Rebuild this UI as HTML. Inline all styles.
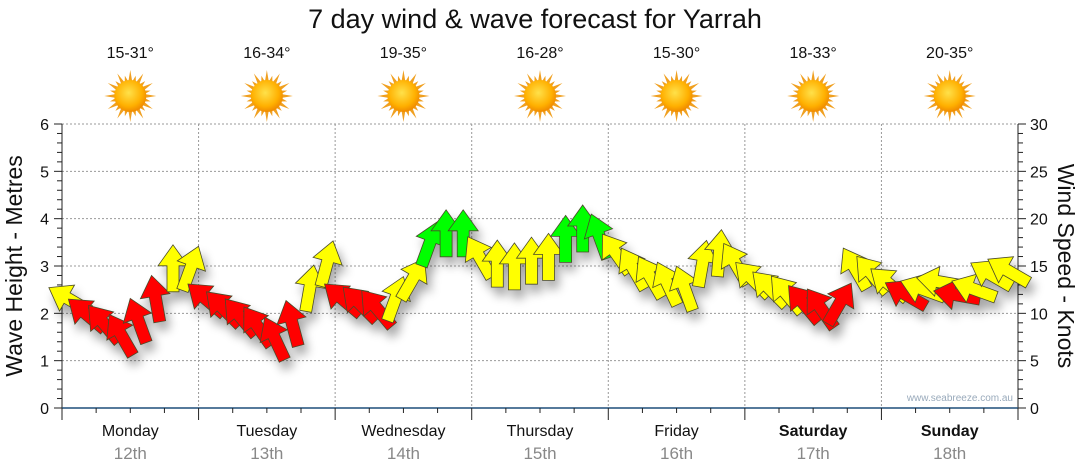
<!DOCTYPE html>
<html><head><meta charset="utf-8">
<style>
body{margin:0;background:#fff;}
svg{display:block;font-family:"Liberation Sans",Arial,sans-serif;}
</style></head>
<body>
<svg id="chart" width="1080" height="475" viewBox="0 0 1080 475" xmlns="http://www.w3.org/2000/svg">
<defs>
<filter id="shadow" x="-30%" y="-30%" width="160%" height="160%">
<feGaussianBlur in="SourceAlpha" stdDeviation="5"/>
<feOffset dx="4" dy="8" result="b"/>
<feComponentTransfer><feFuncA type="linear" slope="0.35"/></feComponentTransfer>
<feMerge><feMergeNode/><feMergeNode in="SourceGraphic"/></feMerge>
</filter>
<radialGradient id="sunGrad" cx="45%" cy="40%" r="60%">
<stop offset="0" stop-color="#ffe14a"/><stop offset="0.7" stop-color="#ffb000"/><stop offset="1" stop-color="#f08a00"/>
</radialGradient>
</defs>
<text x="535" y="28" text-anchor="middle" font-size="27" fill="#111">7 day wind &amp; wave forecast for Yarrah</text>
<g id="grid"></g>
<g id="axes"></g>
<g id="days"></g>
<g id="arrows" filter="url(#shadow)"></g>
<text x="1013" y="401" text-anchor="end" font-size="10" fill="#9ab">www.seabreeze.com.au</text>
<text transform="translate(22,266) rotate(-90)" text-anchor="middle" font-size="23" fill="#111">Wave Height - Metres</text>
<text transform="translate(1058,266) rotate(90)" text-anchor="middle" font-size="23" fill="#111">Wind Speed - Knots</text>
</svg>
<script>
const dayNames=["Monday","Tuesday","Wednesday","Thursday","Friday","Saturday","Sunday"];
const dayDates=["12th","13th","14th","15th","16th","17th","18th"];
const tempRanges=["15-31°","16-34°","19-35°","16-28°","15-30°","18-33°","20-35°"];
const waveTicks=[0,1,2,3,4,5,6];
const knotTicks=[0,5,10,15,20,25,30];
const windSpeed=[
11.4,9.8,8.8,7.6,9.1,11.4,14.6,14.6,
11.4,10.4,9.5,8.5,7.2,8.8,12.5,15.1,
11.4,10.9,10.4,11.4,13.5,17.2,18.3,18.3,
15.8,15.1,14.8,15.4,15.8,17.7,18.8,18.0,
16.2,14.6,13.7,13.0,12.5,15.1,16.2,15.1,
13.5,12.5,11.9,10.9,10.4,10.9,14.6,14.0,
13.0,11.9,12.5,13.3,11.9,12.5,14.0,14.4];
const windDir=[
-60,-50,-40,-30,-20,-10,0,20,
-50,-45,-40,-35,-25,-15,10,15,
-50,-45,-40,20,30,20,0,0,
-30,0,0,0,0,0,0,-20,
-35,-30,-30,-25,-20,10,5,-30,
-45,-45,-40,-40,-35,30,-30,-40,
-50,-60,-70,-80,-80,-70,-60,-60];
const windClass=[
"y","r","r","r","r","r","y","y",
"r","r","r","r","r","r","y","y",
"r","r","r","y","y","g","g","g",
"y","y","y","y","y","g","g","g",
"y","y","y","y","y","y","y","y",
"y","y","y","r","r","r","y","y",
"y","r","y","y","r","y","y","y"];
const NS="http://www.w3.org/2000/svg";
const X0=62,X1=1018,Y0=408,Y1=124;
const dayW=(X1-X0)/7;
function yWave(m){return Y0-(m/6)*(Y0-Y1);}
function yKnot(k){return Y0-(k/30)*(Y0-Y1);}
function xTime(i){return X0+(i+0.5)*dayW/8;}
function mk(tag,attrs,parent){const e=document.createElementNS(NS,tag);for(const k in attrs)e.setAttribute(k,attrs[k]);parent.appendChild(e);return e;}
const grid=document.getElementById('grid'),axes=document.getElementById('axes'),days=document.getElementById('days'),arrows=document.getElementById('arrows');
waveTicks.forEach(v=>{
  const y=yWave(v);
  if(v>0){const l=mk('line',{x1:X0,x2:X1,y1:y,y2:y,stroke:'#999','stroke-dasharray':'2,2','stroke-width':1},grid);
  
  }
  const t=mk('text',{x:49,y:y+6,'text-anchor':'end','font-size':16,fill:'#111'},axes);t.textContent=v;
  
  
});
knotTicks.forEach(v=>{
  const y=yKnot(v);
  const t=mk('text',{x:1030,y:y+6,'text-anchor':'start','font-size':16,fill:'#111'},axes);t.textContent=v;
  
  
});
for(let i=0;i<=30;i++){const y=Y0-i*(Y0-Y1)/30;mk('line',{x1:X0-(i%5==0?0:5),x2:X0,y1:y,y2:y,stroke:'#222'},axes);}
for(let i=0;i<=30;i++){const y=Y0-i*(Y0-Y1)/30;mk('line',{x1:X1,x2:X1+(i%5==0?8:5),y1:y,y2:y,stroke:'#222'},axes);}
for(let i=0;i<=6;i++){const y=yWave(i);mk('line',{x1:X0-8,x2:X0,y1:y,y2:y,stroke:'#222'},axes);}
mk('line',{x1:X0,x2:X0,y1:Y1,y2:Y0+8,stroke:'#222'},axes);
mk('line',{x1:X1,x2:X1,y1:Y1,y2:Y0+8,stroke:'#222'},axes);
mk('line',{x1:X0,x2:X1,y1:Y0,y2:Y0,stroke:'#1f4f7a','stroke-width':1.5},axes);
for(let i=0;i<=28;i++){const x=X0+i*dayW/4;mk('line',{x1:x,x2:x,y1:Y0,y2:Y0+(i%4==0?12:5),stroke:'#222'},axes);}
for(let d=0;d<7;d++){
  const cx=X0+(d+0.5)*dayW;
  if(d>0){const l=mk('line',{x1:X0+d*dayW,x2:X0+d*dayW,y1:Y1,y2:Y0,stroke:'#999','stroke-dasharray':'2,2'},grid);
  
  }
  const n=mk('text',{x:cx,y:436,'text-anchor':'middle','font-size':16,fill:'#111','font-weight':d>=5?'bold':'normal'},days);n.textContent=dayNames[d];
  
  
  const dt=mk('text',{x:cx,y:459,'text-anchor':'middle','font-size':17,fill:'#888'},days);dt.textContent=dayDates[d];
  
  
  const tt=mk('text',{x:cx,y:58,'text-anchor':'middle','font-size':16,fill:'#111'},days);tt.textContent=tempRanges[d];
  
  
  const g=mk('g',{transform:`translate(${cx},96)`},days);
  
  
  for(let r=0;r<24;r++){const a=r*15;const len=r%2?21:26;
    mk('polygon',{points:`-2,-14 2,-14 0,-${len}`,fill:'#f0a020',transform:`rotate(${a})`},g);}
  mk('circle',{r:16,fill:'url(#sunGrad)'},g);
}
const colors={r:'#ff0000',y:'#ffff00',g:'#00ff00'};
windSpeed.forEach((k,i)=>{
  const x=xTime(i),y=yKnot(k);
  const p=mk('polygon',{points:'0,-25 15,-4 6,-4 6,22 -6,22 -6,-4 -15,-4',fill:colors[windClass[i]],stroke:'#4a4a2a','stroke-width':0.8,transform:`translate(${x.toFixed(1)},${y.toFixed(1)}) rotate(${windDir[i]})`},arrows);
  
  
});
</script>
</body></html>
